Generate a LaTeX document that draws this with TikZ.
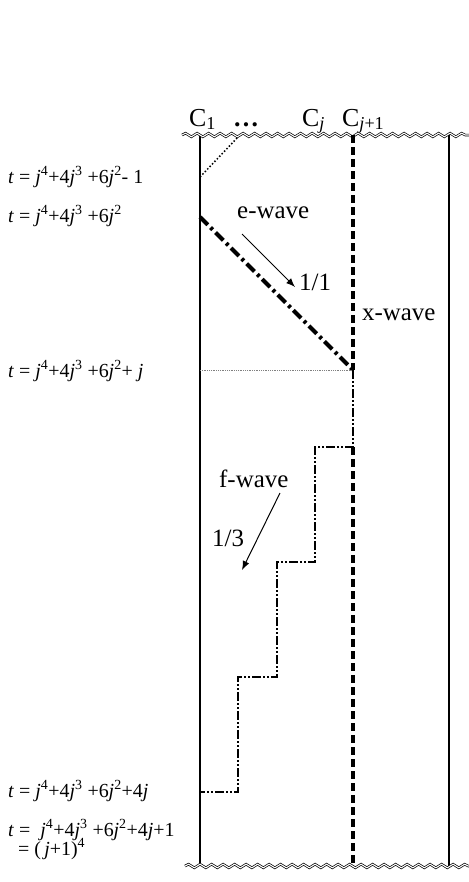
\documentclass[tikz,border=0pt]{standalone}
\usepackage{fontspec}
\setmainfont{Liberation Serif}
\usepackage{tikz}
\usetikzlibrary{arrows.meta, decorations.pathmorphing}

\newcommand{\vj}{\textit{j}}
\newcommand{\pw}[1]{\textsuperscript{#1}}

\begin{document}
\begin{tikzpicture}[
    x=1bp, y=-1bp,
    wall/.style={line width=1.6bp},
    wavy/.style={double, double distance=1.1bp, line width=0.7bp,
                 decorate, decoration={snake, amplitude=1.8bp, segment length=11.5bp}},
    xwave/.style={line width=4bp, dash pattern=on 8bp off 4bp},
    ewave/.style={line width=4bp, dash pattern=on 11bp off 4bp on 3bp off 4bp},
    fwave/.style={line width=1.8bp, dash pattern=on 9bp off 2bp on 2bp off 2bp on 2bp off 2bp},
    tlab/.style={anchor=base west, font=\fontsize{20}{22}\selectfont, inner sep=0pt},
    clab/.style={anchor=base west, font=\fontsize{26}{28}\selectfont, inner sep=0pt},
    wlab/.style={anchor=base west, font=\fontsize{25}{27}\selectfont, inner sep=0pt},
    arr/.style={-{Latex[length=9bp, width=7bp]}, line width=1bp}
]
    \useasboundingbox (0,0) rectangle (469,882);

    % cell names on top
    \node[clab] (c1)   at (189,126) {C\textsubscript{1}};
    \node[clab] (dots) at (233,126) {\textbf{\dots}};
    \node[clab] (cj)   at (302,126) {C\textsubscript{\vj}};
    \node[clab] (cj1)  at (342,126) {C\textsubscript{\vj+1}};

    % frame
    \coordinate (L0) at (200,135);
    \coordinate (L1) at (200,866);
    \coordinate (R0) at (449,135);
    \coordinate (R1) at (449,866);
    \coordinate (X0) at (353,135);
    \coordinate (X1) at (353,370);
    \coordinate (X2) at (353,447);
    \coordinate (X3) at (353,866);
    \coordinate (W0) at (182,135);
    \coordinate (W1) at (469,135);
    \coordinate (W2) at (185,866);
    \coordinate (W3) at (469,866);

    \draw[wall] (L0) -- (L1);
    \draw[wall] (R0) -- (R1);
    \draw[wavy] (W0) -- (W1);
    \draw[wavy] (W2) -- (W3);

    % x-wave
    \draw[xwave] (X0) -- (X1);
    \draw[xwave] (X2) -- (X3);
    \node[wlab] (xw) at (362,320) {x-wave};

    % start signal
    \coordinate (d0) at (200,177);
    \coordinate (d1) at (238,137);
    \draw[line width=1.5bp, dotted] (d0) -- (d1);

    % e-wave
    \coordinate (e0) at (200,217);
    \draw[ewave] (e0) -- (X1);
    \draw[gray, line width=0.8bp, densely dotted] (200,370) coordinate (h0) -- (X1);
    \node[wlab] (ew) at (237,218) {e-wave};
    \coordinate (ea) at (242,234);
    \coordinate (eb) at (295,287);
    \draw[arr] (ea) -- (eb);
    \node[wlab] (er) at (299,290) {1/1};

    % f-wave
    \coordinate (f1) at (315,447);
    \coordinate (f2) at (315,562);
    \coordinate (f3) at (277,562);
    \coordinate (f4) at (277,677);
    \coordinate (f5) at (238,677);
    \coordinate (f6) at (238,792);
    \coordinate (f7) at (200,792);
    \draw[fwave] (X1) -- (X2) -- (f1) -- (f2) -- (f3) -- (f4) -- (f5) -- (f6) -- (f7);
    \node[wlab] (fw) at (219,487) {f-wave};
    \coordinate (fa) at (280,493);
    \coordinate (fb) at (242,570);
    \draw[arr] (fa) -- (fb);
    \node[wlab] (fr) at (212,546) {1/3};

    % times
    \node[tlab] (t1) at (8,183) {\textit{t} = \vj\pw{4}+4\vj\pw{3} +6\vj\pw{2}- 1};
    \node[tlab] (t2) at (8,222) {\textit{t} = \vj\pw{4}+4\vj\pw{3} +6\vj\pw{2}};
    \node[tlab] (t3) at (8,377) {\textit{t} = \vj\pw{4}+4\vj\pw{3} +6\vj\pw{2}+ \vj};
    \node[tlab] (t4) at (8,797) {\textit{t} = \vj\pw{4}+4\vj\pw{3} +6\vj\pw{2}+4\vj};
    \node[tlab] (t5) at (8,836) {\textit{t} =\ \ \vj\pw{4}+4\vj\pw{3} +6\vj\pw{2}+4\vj+1};
    \node[tlab] (t6) at (18,855) {= (\,\vj+1)\pw{4}};
\end{tikzpicture}
\end{document}
